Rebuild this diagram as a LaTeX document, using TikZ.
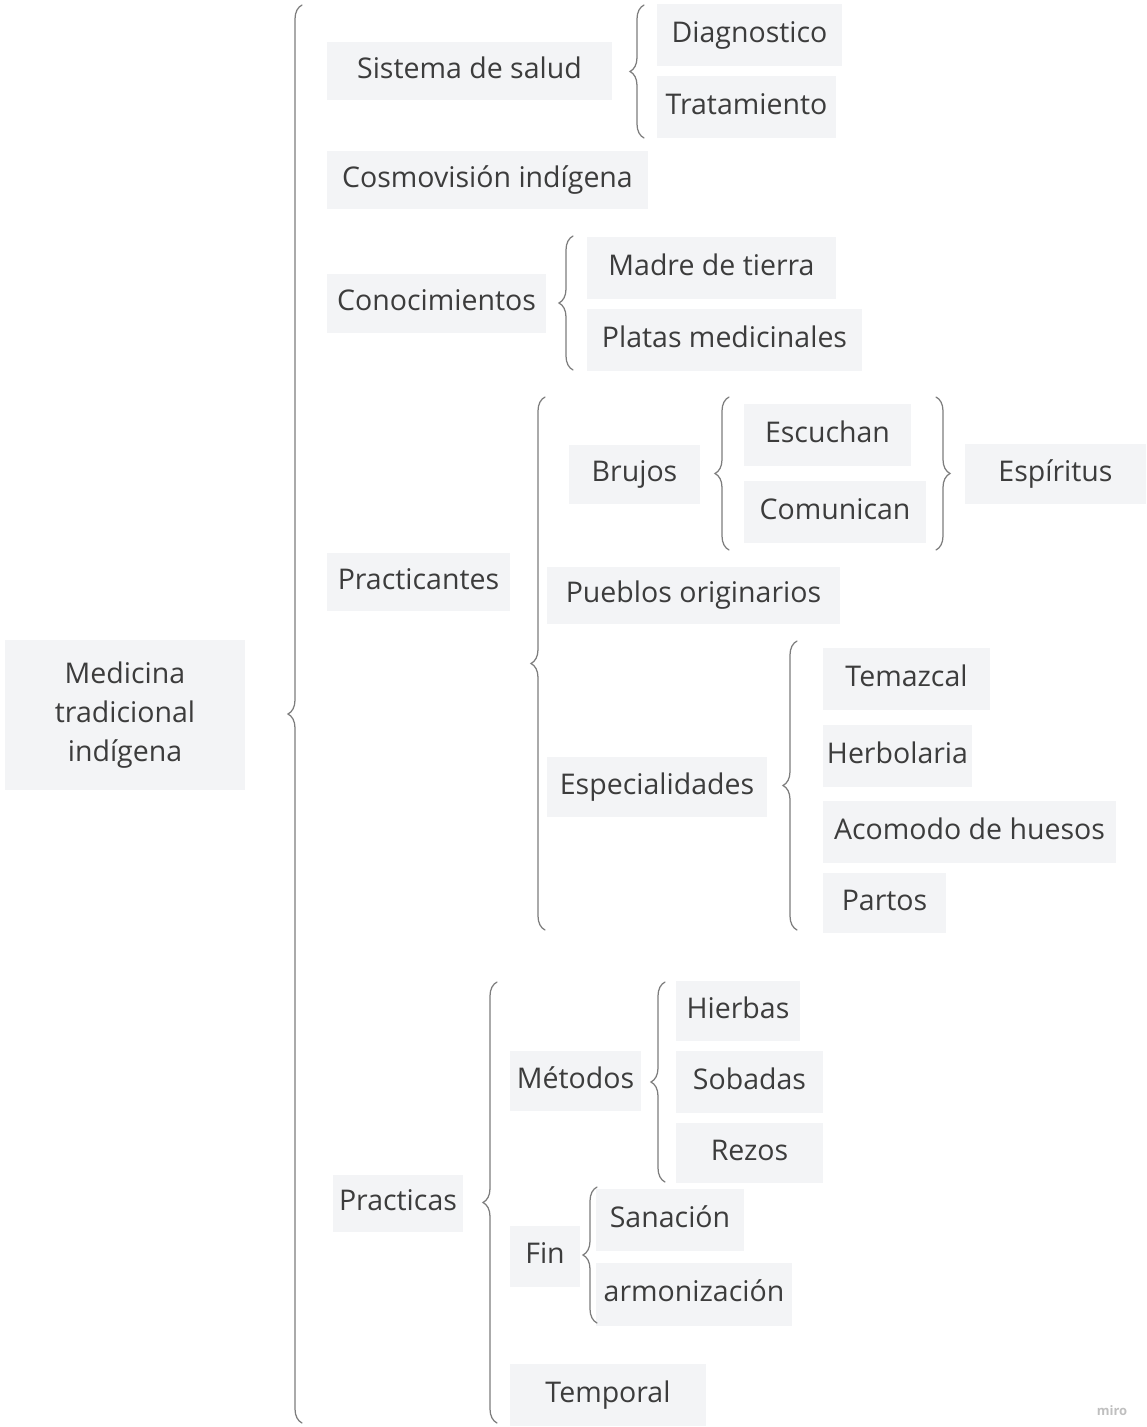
\documentclass[tikz,border=0pt]{standalone}
\usepackage{fontspec}
\setmainfont{Open Sans}
\usepackage{tikz}
\usetikzlibrary{decorations.pathreplacing,positioning}
\definecolor{boxgray}{RGB}{243,244,246}
\definecolor{inkgray}{RGB}{60,60,60}
\definecolor{bracegray}{RGB}{125,125,125}
\newcommand{\mapfont}{\fontsize{28.5}{39}\selectfont}

\begin{document}
\begin{tikzpicture}[x=1pt, y=-1pt,
  box/.style={fill=boxgray, text=inkgray, font=\mapfont, inner sep=0pt,
    text height=20pt, text depth=5pt},
  curly/.style={draw=bracegray, line width=1.25pt, line cap=round,
    decorate, decoration={brace, amplitude=14pt}}]
  \useasboundingbox (0,0) rectangle (1146,1427);
  % root
  \node[box, minimum width=240, minimum height=150, align=center,
    text height=, text depth=] (root) at (125,715) {Medicina\\tradicional\\indígena};
  % first level
  \node[box, minimum width=285, minimum height=58] (salud) at (469.5,70.5) {Sistema de salud};
  \node[box, minimum width=321, minimum height=58] (cosmo) at (487.5,179.5) {Cosmovisión indígena};
  \node[box, minimum width=219, minimum height=59] (conoc) at (436.5,303) {Conocimientos};
  \node[box, minimum width=183, minimum height=58] (practicantes) at (418.5,581.5) {Practicantes};
  \node[box, minimum width=130, minimum height=57] (practicas) at (398,1203) {Practicas};
  % sistema de salud
  \node[box, minimum width=185, minimum height=62] (diag) at (749.5,34.5) {Diagnostico};
  \node[box, minimum width=179, minimum height=62] (trat) at (746.5,106.5) {Tratamiento};
  % conocimientos
  \node[box, minimum width=249, minimum height=62] (madre) at (711.5,267.5) {Madre de tierra};
  \node[box, minimum width=275, minimum height=62] (platas) at (724.5,339.5) {Platas medicinales};
  % practicantes
  \node[box, minimum width=131, minimum height=59] (brujos) at (634.5,474) {Brujos};
  \node[box, minimum width=167, minimum height=62] (escuchan) at (827.5,434.5) {Escuchan};
  \node[box, minimum width=182, minimum height=62] (comunican) at (835,511.5) {Comunican};
  \node[box, minimum width=181, minimum height=60] (espiritus) at (1055.5,473.5) {Espíritus};
  \node[box, minimum width=293, minimum height=57] (pueblos) at (693.5,595) {Pueblos originarios};
  \node[box, minimum width=220, minimum height=60] (espec) at (657,786.5) {Especialidades};
  \node[box, minimum width=167, minimum height=62] (temazcal) at (906.5,678.5) {Temazcal};
  \node[box, minimum width=149, minimum height=62] (herbolaria) at (897.5,755.5) {Herbolaria};
  \node[box, minimum width=293, minimum height=62] (acomodo) at (969.5,831.5) {Acomodo de huesos};
  \node[box, minimum width=123, minimum height=60] (partos) at (884.5,902.5) {Partos};
  % practicas
  \node[box, minimum width=131, minimum height=60] (metodos) at (575.5,1080.5) {Métodos};
  \node[box, minimum width=124, minimum height=60] (hierbas) at (738,1010.5) {Hierbas};
  \node[box, minimum width=147, minimum height=62] (sobadas) at (749.5,1081.5) {Sobadas};
  \node[box, minimum width=147, minimum height=60] (rezos) at (749.5,1152.5) {Rezos};
  \node[box, minimum width=70, minimum height=61] (fin) at (545,1256) {Fin};
  \node[box, minimum width=148, minimum height=62] (sanacion) at (670,1219.5) {Sanación};
  \node[box, minimum width=196, minimum height=63] (armon) at (694,1294) {armonización};
  \node[box, minimum width=196, minimum height=62] (temporal) at (608,1394.5) {Temporal};
  % braces
  \draw[curly] (302,1423) -- (302,5);
  \draw[curly] (644,138) -- (644,5);
  \draw[curly] (573,370) -- (573,236);
  \draw[curly] (545,930) -- (545,397);
  \draw[curly] (729,550) -- (729,397);
  \draw[curly] (936,397) -- (936,550);
  \draw[curly] (797,930) -- (797,641);
  \draw[curly] (497,1423) -- (497,982);
  \draw[curly] (665,1182) -- (665,982);
  \draw[curly] (597,1323) -- (597,1187);
  % watermark
  \node[text=black!25, font=\fontsize{13}{15}\selectfont\bfseries, inner sep=0pt] (wm) at (1112,1411) {miro};
\end{tikzpicture}
\end{document}
